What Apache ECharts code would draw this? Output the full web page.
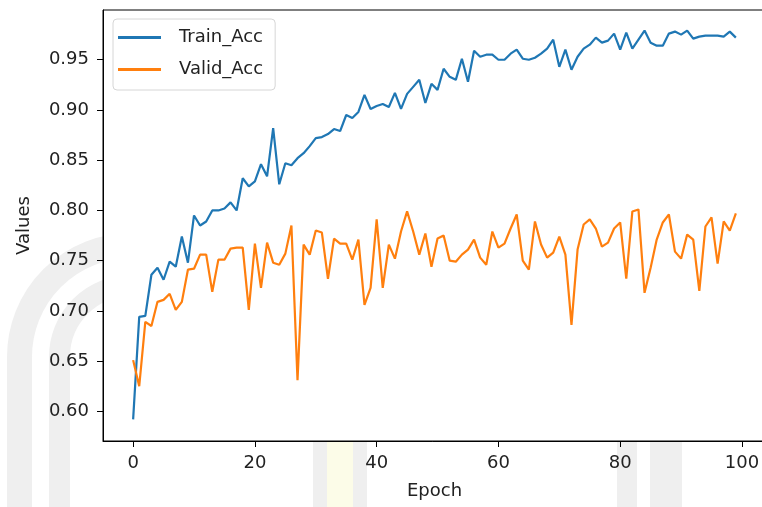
<!DOCTYPE html>
<html>
<head>
<meta charset="utf-8">
<script src="https://cdn.jsdelivr.net/npm/echarts@6/dist/echarts.min.js"></script>
<style>
  html, body { margin: 0; padding: 0; background: #fff; }
  #chart { width: 762px; height: 507px; }
</style>
</head>
<body>
<div id="chart"></div>
<script>
// epochs 0..99
const epochs = Array.from({ length: 100 }, (_, i) => i);

const trainAcc = [
  0.592, 0.694, 0.695, 0.736, 0.743, 0.731, 0.749, 0.744, 0.774, 0.748,
  0.795, 0.785, 0.789, 0.800, 0.800, 0.802, 0.808, 0.800, 0.832, 0.824,
  0.829, 0.846, 0.834, 0.882, 0.826, 0.847, 0.845, 0.852, 0.857, 0.864,
  0.872, 0.873, 0.876, 0.881, 0.879, 0.895, 0.892, 0.898, 0.915, 0.901,
  0.904, 0.906, 0.903, 0.917, 0.901, 0.916, 0.923, 0.930, 0.907, 0.926,
  0.920, 0.941, 0.933, 0.930, 0.951, 0.928, 0.959, 0.953, 0.955, 0.955,
  0.950, 0.950, 0.956, 0.960, 0.951, 0.950, 0.952, 0.956, 0.961, 0.970,
  0.943, 0.960, 0.940, 0.953, 0.961, 0.965, 0.972, 0.967, 0.969, 0.976,
  0.960, 0.977, 0.961, 0.970, 0.979, 0.967, 0.964, 0.964, 0.976, 0.978,
  0.975, 0.979, 0.971, 0.973, 0.974, 0.974, 0.974, 0.973, 0.978, 0.972
];

const validAcc = [
  0.651, 0.625, 0.689, 0.685, 0.709, 0.711, 0.717, 0.701, 0.709, 0.741,
  0.742, 0.756, 0.756, 0.719, 0.751, 0.751, 0.762, 0.763, 0.763, 0.701,
  0.767, 0.723, 0.768, 0.748, 0.746, 0.757, 0.785, 0.631, 0.766, 0.756,
  0.780, 0.778, 0.732, 0.772, 0.767, 0.767, 0.751, 0.771, 0.706, 0.723,
  0.791, 0.723, 0.766, 0.752, 0.779, 0.799, 0.779, 0.756, 0.777, 0.744,
  0.772, 0.775, 0.750, 0.749, 0.756, 0.761, 0.771, 0.753, 0.746, 0.779,
  0.763, 0.767, 0.782, 0.796, 0.750, 0.741, 0.789, 0.766, 0.753, 0.758,
  0.774, 0.756, 0.686, 0.761, 0.786, 0.791, 0.782, 0.764, 0.768, 0.782,
  0.788, 0.732, 0.799, 0.801, 0.718, 0.743, 0.771, 0.788, 0.796, 0.759,
  0.752, 0.776, 0.771, 0.720, 0.784, 0.793, 0.747, 0.789, 0.780, 0.797
];

const xTicks = [0, 20, 40, 60, 80, 100];
const yTicks = [0.60, 0.65, 0.70, 0.75, 0.80, 0.85, 0.90, 0.95];

const font = 'DejaVu Sans';
const fs = 18;
const ink = '#222';
const wm = '#efefef';

const chart = echarts.init(document.getElementById('chart'));

chart.setOption({
  animation: false,
  backgroundColor: '#fff',
  color: ['#1f77b4', '#ff7f0e'],
  textStyle: { fontFamily: font },
  // faint watermark behind the axes
  graphic: [
    { type: 'arc', z: -10, shape: { cx: 131, cy: 357, r: 111.5, startAngle: Math.PI, endAngle: Math.PI * 1.5 }, style: { stroke: wm, lineWidth: 25, fill: null } },
    { type: 'arc', z: -10, shape: { cx: 131, cy: 357, r: 71.5, startAngle: Math.PI, endAngle: Math.PI * 1.5 }, style: { stroke: wm, lineWidth: 21, fill: null } },
    { type: 'rect', z: -10, shape: { x: 7, y: 357, width: 25, height: 150 }, style: { fill: wm } },
    { type: 'rect', z: -10, shape: { x: 49, y: 357, width: 21, height: 150 }, style: { fill: wm } },
    { type: 'rect', z: -10, shape: { x: 313, y: 441, width: 54, height: 66 }, style: { fill: wm } },
    { type: 'rect', z: -9, shape: { x: 327, y: 441, width: 26, height: 66 }, style: { fill: '#fcfce8' } },
    { type: 'rect', z: -10, shape: { x: 617, y: 441, width: 20, height: 66 }, style: { fill: wm } },
    { type: 'rect', z: -10, shape: { x: 650, y: 441, width: 32, height: 66 }, style: { fill: wm } }
  ],
  grid: {
    left: 103,
    top: 10,
    width: 663,
    height: 431,
    show: true,
    backgroundColor: '#fff',
    borderColor: '#000',
    borderWidth: 1,
    outerBoundsMode: 'none'
  },
  legend: {
    orient: 'vertical',
    left: 113,
    top: 19,
    padding: [8, 12, 10, 5],
    itemGap: 11,
    itemWidth: 43,
    itemHeight: 3,
    icon: 'rect',
    backgroundColor: 'rgba(255,255,255,0.85)',
    borderColor: '#d6d6d6',
    borderWidth: 1,
    borderRadius: 4,
    textStyle: { fontFamily: font, fontSize: fs, color: ink, lineHeight: 21, padding: [0, 0, 0, 13] },
    data: ['Train_Acc', 'Valid_Acc']
  },
  xAxis: {
    type: 'value',
    min: -4.95,
    max: 103.95,
    name: 'Epoch',
    nameLocation: 'middle',
    nameGap: 41,
    nameTextStyle: { fontFamily: font, fontSize: fs, color: ink },
    splitLine: { show: false },
    axisLine: { show: true, onZero: false, lineStyle: { color: '#000', width: 1 } },
    axisTick: { show: true, length: 6, customValues: xTicks, lineStyle: { color: '#000' } },
    axisLabel: { customValues: xTicks, margin: 13, fontFamily: font, fontSize: fs, color: ink }
  },
  yAxis: {
    type: 'value',
    min: 0.5705,
    max: 0.9995,
    name: 'Values',
    nameLocation: 'middle',
    nameGap: 70,
    nameTextStyle: { fontFamily: font, fontSize: fs, color: ink },
    splitLine: { show: false },
    axisLine: { show: true, onZero: false, lineStyle: { color: '#000', width: 1 } },
    axisTick: { show: true, length: 6, customValues: yTicks, lineStyle: { color: '#000' } },
    axisLabel: {
      customValues: yTicks,
      margin: 14,
      fontFamily: font,
      fontSize: fs,
      color: ink,
      formatter: (v) => v.toFixed(2)
    }
  },
  series: [
    {
      name: 'Train_Acc',
      type: 'line',
      showSymbol: false,
      lineStyle: { width: 2.2 },
      data: epochs.map((e, i) => [e, trainAcc[i]])
    },
    {
      name: 'Valid_Acc',
      type: 'line',
      showSymbol: false,
      lineStyle: { width: 2.2 },
      data: epochs.map((e, i) => [e, validAcc[i]])
    }
  ]
});
</script>
</body>
</html>
